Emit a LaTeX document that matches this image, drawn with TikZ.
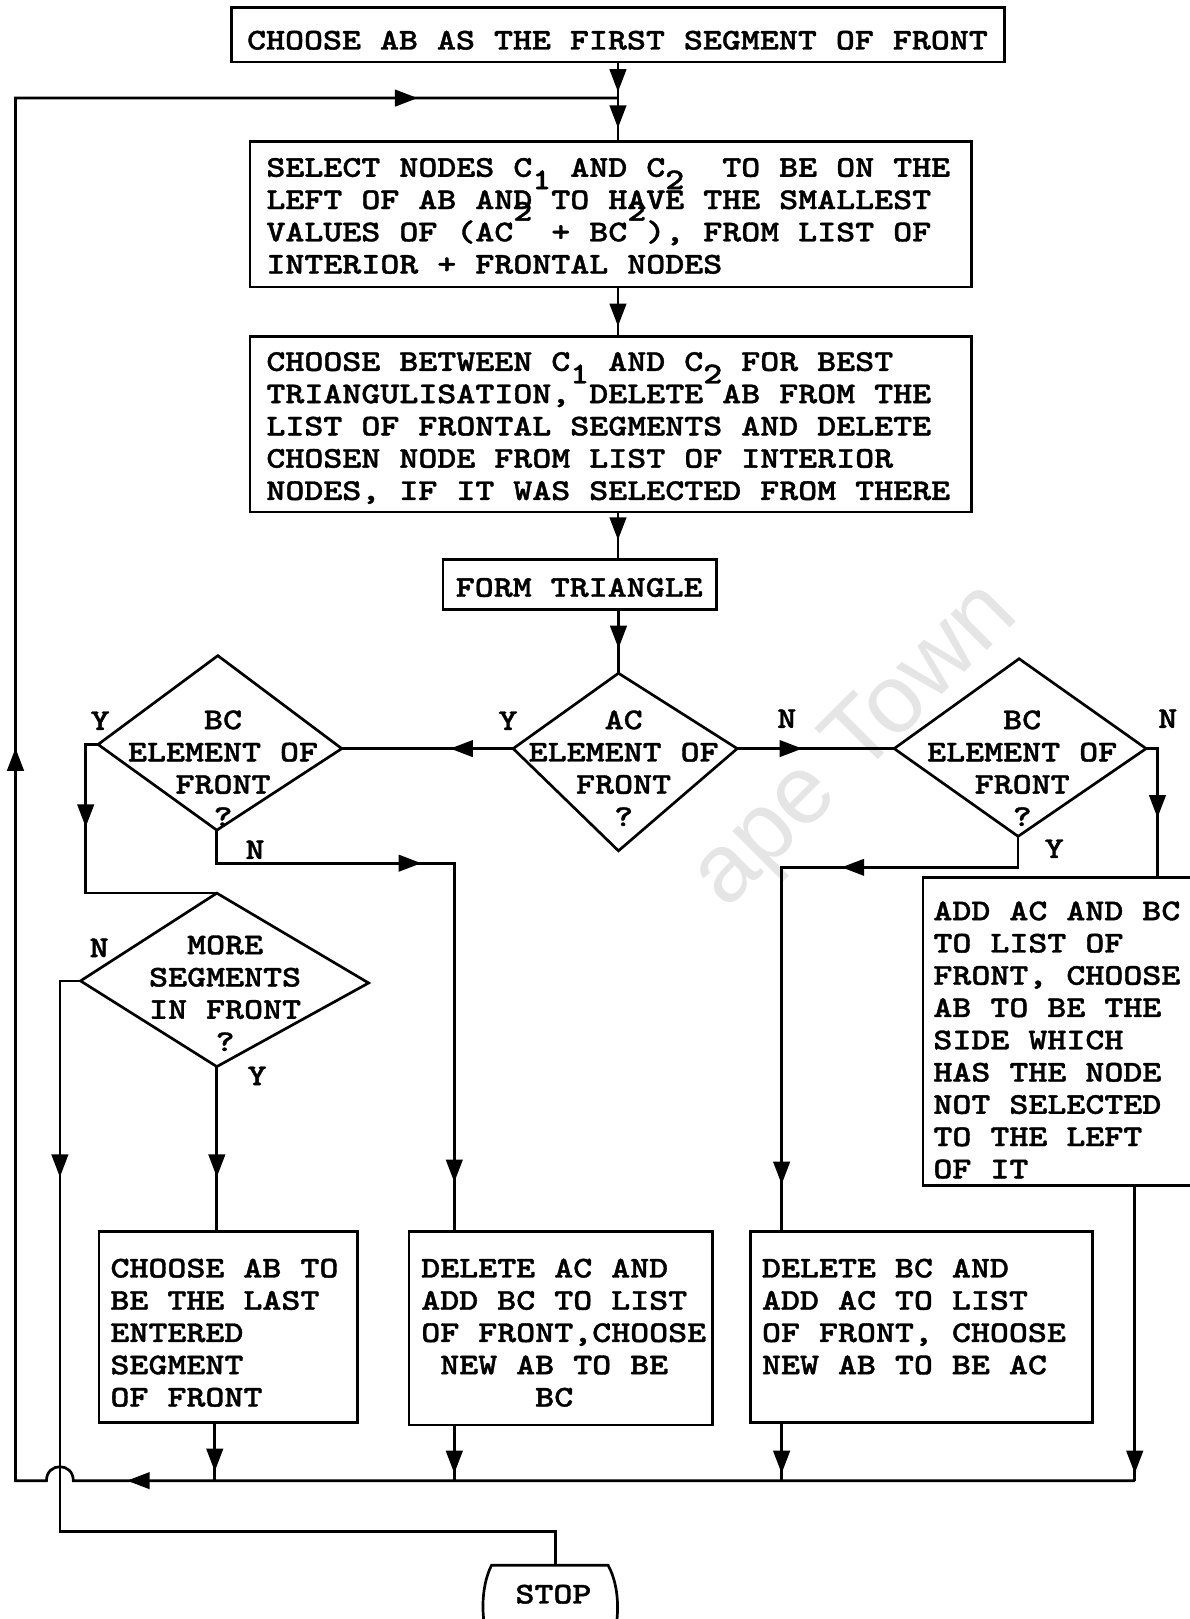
\documentclass[tikz,border=0pt]{standalone}
\usepackage{fontspec}
\usetikzlibrary{arrows.meta,decorations.markings}
\newfontfamily\typefont[Extension=.otf,FakeStretch=1.2,FakeBold=1.2]{lmmonolt10-bold}
\newfontfamily\markfont{Liberation Sans}
% digits set half a line below / above, as on a typewriter
\newcommand\lowdigit[1]{\smash{\raisebox{-12pt}{#1}}}
\newcommand\highdigit[1]{\smash{\raisebox{20pt}{#1}}}
\begin{document}
\begin{tikzpicture}[x=1pt,y=-1pt,line width=2.6pt,line join=miter,
  every node/.style={inner sep=0pt,outer sep=0pt},
  box/.style={draw,rectangle,anchor=north west},
  mono/.style={font=\typefont\fontsize{29.2}{31.25}\selectfont},
  block/.style={mono,align=left,anchor=north west,execute at begin node={\rule{0pt}{22pt}}},
  cblock/.style={mono,align=center,anchor=north,execute at begin node={\rule{0pt}{22pt}}},
  lbl/.style={mono},
  tip/.style={postaction={decorate,decoration={markings,
      mark=at position #1 with {\arrow{Triangle[length=22pt,width=16pt]}}}}},
]
\useasboundingbox (0,0) rectangle (1152,1568);

% faint stamp in the background
\node[font=\markfont\fontsize{94}{94}\selectfont,text=black!10,rotate=45] (stamp) at (830,724) {ape Town};

% ---------- process boxes ----------
\node[box,minimum width=749pt,minimum height=53pt] (top) at (224,7) {};
\node[lbl] (topt) at (598,39) {CHOOSE AB AS THE FIRST SEGMENT OF FRONT};

\node[box,minimum width=699pt,minimum height=141pt] (sel) at (242,137) {};
\node[block] (selt) at (258,153) {SELECT NODES C\lowdigit{1} AND C\lowdigit{2}~ TO BE ON THE\\
LEFT OF AB AND TO HAVE THE SMALLEST\\
VALUES OF (AC\highdigit{2} + BC\highdigit{2}), FROM LIST OF\\
INTERIOR + FRONTAL NODES};

\node[box,minimum width=699pt,minimum height=170pt] (cho) at (242,326) {};
\node[block] (chot) at (258,341) {CHOOSE BETWEEN C\lowdigit{1} AND C\lowdigit{2} FOR BEST\\
TRIANGULISATION, DELETE AB FROM THE\\
LIST OF FRONTAL SEGMENTS AND DELETE\\
CHOSEN NODE FROM LIST OF INTERIOR\\
NODES, IF IT WAS SELECTED FROM THERE};

\node[box,minimum width=265pt,minimum height=48pt] (form) at (429,542) {};
\node[lbl] (formt) at (561,569) {FORM TRIANGLE};

\node[box,minimum width=250pt,minimum height=185pt] (last) at (96,1193) {};
\node[block] (lastt) at (107,1219) {CHOOSE AB TO\\BE THE LAST\\ENTERED\\SEGMENT\\OF FRONT};

\node[box,minimum width=294pt,minimum height=187pt] (dac) at (396,1193) {};
\node[block] (dact) at (408,1219) {DELETE AC AND\\ADD BC TO LIST\\OF FRONT,CHOOSE\\
\hphantom{X}NEW AB TO BE\\\hphantom{XXXXXX}BC};

\node[box,minimum width=331pt,minimum height=185pt] (dbc) at (727,1193) {};
\node[block] (dbct) at (738,1219) {DELETE BC AND\\ADD AC TO LIST\\OF FRONT, CHOOSE\\NEW AB TO BE AC};

\node[box,minimum width=320pt,minimum height=298pt] (add) at (894,850) {};
\node[block] (addt) at (904,873) {ADD AC AND BC\\TO LIST OF\\FRONT, CHOOSE\\AB TO BE THE\\SIDE WHICH\\
HAS THE NODE\\NOT SELECTED\\TO THE LEFT\\OF IT};

% ---------- decisions ----------
\coordinate (acN) at (599,652);  \coordinate (acE) at (714,725);
\coordinate (acS) at (599,824);  \coordinate (acW) at (497,725);
\draw (acN) -- (acE) -- (acS) -- (acW) -- cycle;
\node[cblock] (act) at (604,688) {AC\\ELEMENT OF\\FRONT\\?};

\coordinate (bclN) at (211,635); \coordinate (bclE) at (331,725);
\coordinate (bclS) at (210,804); \coordinate (bclW) at (95,721);
\draw (bclN) -- (bclE) -- (bclS) -- (bclW) -- cycle;
\node[cblock] (bclt) at (216,688) {BC\\ELEMENT OF\\FRONT\\?};

\coordinate (bcrN) at (987,638); \coordinate (bcrE) at (1110,725);
\coordinate (bcrS) at (986,810); \coordinate (bcrW) at (866,725);
\draw (bcrN) -- (bcrE) -- (bcrS) -- (bcrW) -- cycle;
\node[cblock] (bcrt) at (990,688) {BC\\ELEMENT OF\\FRONT\\?};

\coordinate (moN) at (210,865); \coordinate (moE) at (357,952);
\coordinate (moS) at (210,1033); \coordinate (moW) at (78,950);
\draw (moN) -- (moE) -- (moS) -- (moW) -- cycle;
\node[cblock] (mot) at (218,906) {MORE\\SEGMENTS\\IN FRONT\\?};

% ---------- terminal ----------
\coordinate (stopT) at (538,1516);
\draw (476,1516) -- (589,1516) .. controls (601,1538) and (601,1572) .. (590,1600)
  -- (476,1600) .. controls (465,1572) and (465,1538) .. (476,1516) -- cycle;
\node[lbl] (stopt) at (536,1544) {STOP};

% ---------- branch labels ----------
\node[lbl] (yac) at (492,698) {Y};
\node[lbl] (nac) at (762,696) {N};
\node[lbl] (ybl) at (97,698) {Y};
\node[lbl] (nbl) at (247,823) {N};
\node[lbl] (nbr) at (1131,696) {N};
\node[lbl] (ybr) at (1021,822) {Y};
\node[lbl] (nmo) at (96,918) {N};
\node[lbl] (ymo) at (249,1042) {Y};

% ---------- attachment points ----------
\coordinate (jA)   at (598.5,95);
\coordinate (lTop) at (15,95);
\coordinate (lBot) at (15,1434);
\coordinate (hopR) at (71,1434);
\coordinate (hopL) at (45,1434);
\coordinate (b1) at (208,1434);
\coordinate (b2) at (440,1434);
\coordinate (b3) at (757,1434);
\coordinate (b4) at (1099,1434);
\coordinate (dacT) at (440,1193);
\coordinate (dbcT) at (757,1193);
\coordinate (addT) at (1121,850);
\coordinate (lastT) at (210,1193);

% ---------- connectors ----------
\draw[tip=29pt,tip=64pt] (top.south) -- (top.south |- sel.north);
\draw[tip=38pt] (top.south |- sel.south) -- (top.south |- cho.north);
\draw[tip=27pt] (top.south |- cho.south) -- (top.south |- form.north);
\draw[tip=38pt] (acN |- form.south) -- (acN);
\draw[tip=61pt] (acW) -- (bclE);
\draw[tip=63pt] (acE) -- (bcrW);
\draw[tip=92pt] (bclW) -- ++(-12,0) |- (moN);
\draw[tip=230pt,tip=571pt] (bclS) -- ++(0,32) -| (dacT);
\draw[tip=201pt,tip=566pt] (bcrS) -- ++(0,30) -| (dbcT);
\draw[tip=78pt] (bcrE) -| (addT);
\draw[tip=210pt] (moW) -- ++(-20,0) -- ++(0,533) -| (stopT);
\draw[tip=107pt] (moS) -- (lastT);
\draw[tip=47pt] (last.south -| b1) -- (b1);
\draw[tip=47pt] (dac.south -| b2) -- (b2);
\draw[tip=49pt] (dbc.south -| b3) -- (b3);
\draw[tip=279pt] (add.south -| b4) -- (b4);
\draw[tip=976pt,tip=-1213pt,tip=-194pt] (b4) -- (hopR)
  .. controls +(0,-18) and +(0,-18) .. (hopL) -- (lBot) -- (lTop) -- (jA);
\end{tikzpicture}
\end{document}
